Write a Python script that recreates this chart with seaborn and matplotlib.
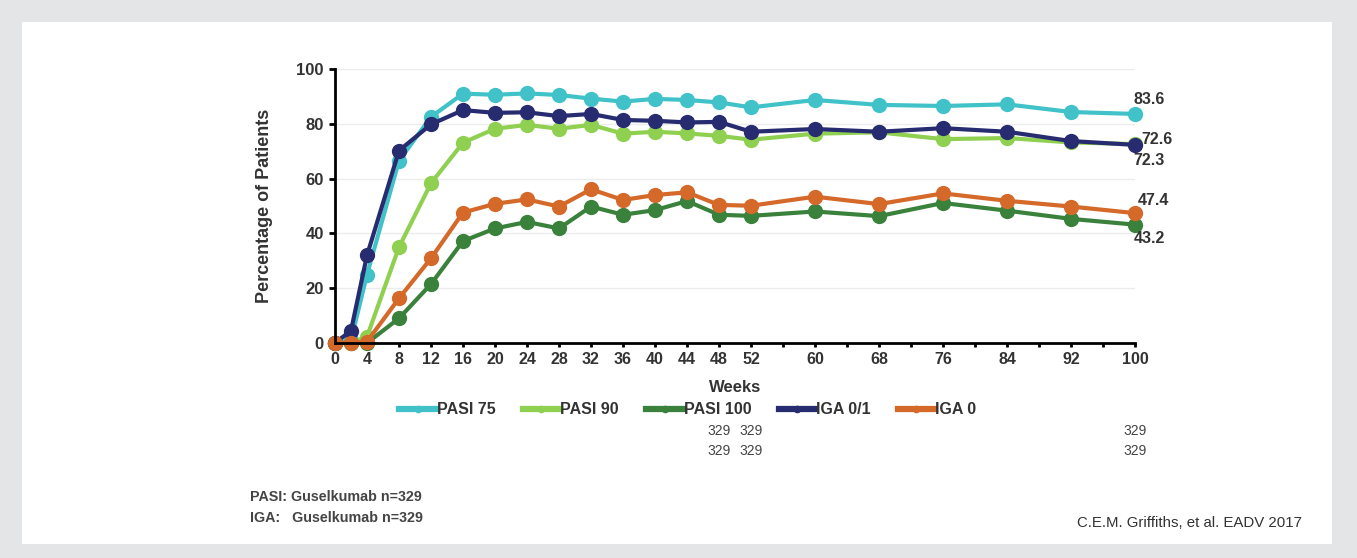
import matplotlib
matplotlib.use("Agg")
import matplotlib.pyplot as plt
from matplotlib.lines import Line2D
from matplotlib.patches import Rectangle
import seaborn as sb
import pandas as pd

# Data
weeks = [0, 2, 4, 8, 12, 16, 20, 24, 28, 32, 36, 40, 44, 48, 52, 60, 68, 76, 84, 92, 100]
pasi75 = [0, 1, 25, 66.5, 82.5, 91, 90.6, 91.1, 90.5, 89.2, 88.1, 89.1, 88.7, 87.8, 86, 88.7, 86.9, 86.5, 87.1, 84.3, 83.6]
pasi90 = [0, 0, 2.3, 35, 58.3, 73.1, 78.2, 79.6, 78.2, 79.6, 76.4, 77.1, 76.5, 75.6, 74.2, 76.4, 76.9, 74.4, 74.8, 73.2, 72.6]
pasi100 = [0, 0, 0, 9, 21.5, 37.2, 41.8, 44.2, 41.8, 49.8, 46.8, 48.5, 51.8, 46.8, 46.4, 48, 46.3, 51.1, 48.3, 45.3, 43.2]
iga01 = [0, 4.5, 32, 70.2, 79.8, 85, 84, 84.2, 82.8, 83.6, 81.4, 81.1, 80.5, 80.7, 77.1, 78.1, 77.1, 78.4, 77.1, 73.7, 72.3]
iga0 = [0, 0, 0.5, 16.3, 30.9, 47.6, 50.8, 52.4, 49.8, 56.1, 52.2, 54, 55, 50.4, 50.1, 53.4, 50.7, 54.6, 51.9, 49.8, 47.4]

series_names = ["PASI 75", "PASI 90", "PASI 100", "IGA 0/1", "IGA 0"]
series_vals = [pasi75, pasi90, pasi100, iga01, iga0]
colors = ["#41c2c9", "#8fd051", "#3a823c", "#272b6f", "#d4692a"]

major_ticks = [0, 4, 8, 12, 16, 20, 24, 28, 32, 36, 40, 44, 48, 52, 60, 68, 76, 84, 92, 100]
minor_ticks = [56, 64, 72, 80, 88, 96]

df = pd.concat([pd.DataFrame({"Weeks": weeks, "pct": v, "measure": n})
                for n, v in zip(series_names, series_vals)])

plt.rcParams["font.family"] = ["Liberation Sans", "DejaVu Sans"]
txt_col = "#333333"

fig = plt.figure(figsize=(13.57, 5.58), dpi=100)
fig.patch.set_facecolor("#e4e5e7")
fig.patches.append(Rectangle((22 / 1357, 14 / 558), 1310 / 1357, 522 / 558,
                             transform=fig.transFigure, facecolor="white",
                             edgecolor="none", zorder=-10))

ax = fig.add_axes([335 / 1357, 1 - 343 / 558, 800 / 1357, 274 / 558])
ax.set_facecolor("white")

sb.lineplot(data=df, x="Weeks", y="pct", hue="measure", hue_order=series_names,
            palette=colors, marker="o", markersize=11, markeredgewidth=0,
            linewidth=3, legend=False, ax=ax, clip_on=False)

ax.set_xlim(0, 100)
ax.set_ylim(0, 100)
ax.set_yticks([0, 20, 40, 60, 80, 100])
ax.set_xticks(major_ticks)
ax.set_xticks(minor_ticks, minor=True)
ax.grid(axis="y", color="#ececec", linewidth=1)
ax.set_axisbelow(True)
for s in ["top", "right"]:
    ax.spines[s].set_visible(False)
for s in ["left", "bottom"]:
    ax.spines[s].set_linewidth(2)
    ax.spines[s].set_color("black")
ax.tick_params(axis="both", which="both", width=2, length=4, color="black",
               labelsize=12, labelcolor=txt_col)
ax.tick_params(axis="x", which="both", length=3, labelsize=11.5)
ax.tick_params(axis="y", pad=4)
for lab in ax.get_xticklabels() + ax.get_yticklabels():
    lab.set_fontweight("bold")
ax.set_xlabel("Weeks", fontsize=12, fontweight="bold", color=txt_col, labelpad=9)
ax.set_ylabel("Percentage of Patients", fontsize=13, fontweight="bold", color=txt_col, labelpad=17)

# End-point labels
lab_kw = dict(fontsize=11.5, fontweight="bold", color=txt_col, ha="left")
ax.text(99.8, 83.6 + 2.5, "83.6", va="bottom", **lab_kw)
ax.text(100.8, 74.3, "72.6", va="center", **lab_kw)
ax.text(99.8, 72.3 - 3, "72.3", va="top", **lab_kw)
ax.text(100.3, 47.4 + 2, "47.4", va="bottom", **lab_kw)
ax.text(99.8, 43.2 - 2.5, "43.2", va="top", **lab_kw)

# Legend
handles = [Line2D([0], [0], color=c, linewidth=4.5, marker="o", markersize=5.5, markeredgewidth=0)
           for c in colors]
leg = fig.legend(handles, series_names, ncol=5, frameon=False, loc="center",
                 bbox_to_anchor=(688 / 1357, 1 - 410 / 558), handlelength=2.3,
                 columnspacing=1.7, handletextpad=0.05, prop={"weight": "bold", "size": 11.5})
for t in leg.get_texts():
    t.set_color(txt_col)

# N at risk
for wk in [48, 52, 100]:
    for yy in [431, 451]:
        ax.text(wk, (343 - yy) / 274, "329", transform=ax.get_xaxis_transform(), fontsize=10,
                color="#444444", ha="center", va="center")

fig.text(250 / 1357, 1 - 497 / 558, "PASI: Guselkumab n=329", fontsize=10.3, fontweight="bold",
         color="#444444", va="center")
fig.text(250 / 1357, 1 - 518 / 558, "IGA:   Guselkumab n=329", fontsize=10.3, fontweight="bold",
         color="#444444", va="center")
fig.text(1302 / 1357, 1 - 523 / 558, "C.E.M. Griffiths, et al. EADV 2017", fontsize=10.8,
         color="#333333", ha="right", va="center")

fig.savefig("out.png", dpi=100, facecolor=fig.get_facecolor())
